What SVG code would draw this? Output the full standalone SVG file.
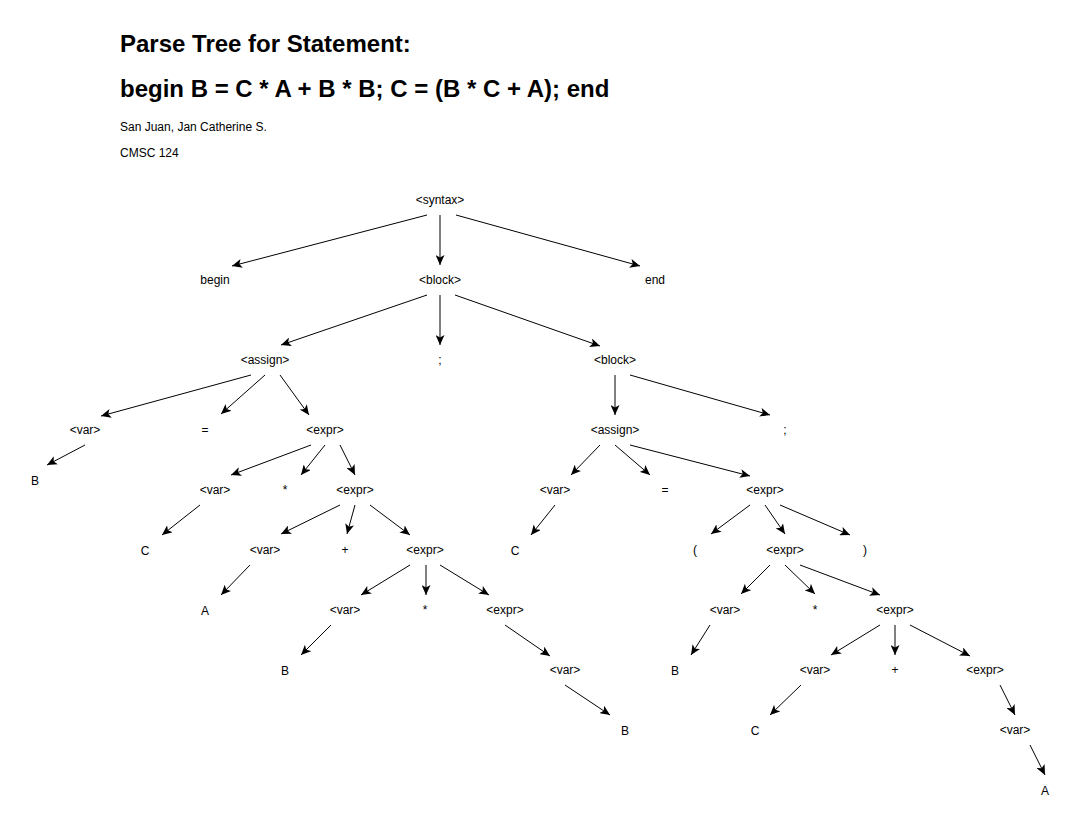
<svg xmlns="http://www.w3.org/2000/svg" width="1091" height="821" viewBox="0 0 1091 821">
<style>
  text { font-family: "Liberation Sans", Arial, sans-serif; fill: #000; }
  .title { font-size: 24px; font-weight: bold; }
  .sub { font-size: 12px; }
  .n text { font-size: 12px; text-anchor: middle; }
  .edges line { stroke: #000; stroke-width: 1; fill: none; marker-end: url(#arr); }
</style>
<defs>
  <marker id="arr" markerUnits="userSpaceOnUse" markerWidth="11" markerHeight="9" refX="10" refY="4.5" orient="auto">
    <path d="M0,0 L10,4.5 L0,9 L2.5,4.5 z" fill="#000"/>
  </marker>
</defs>
<rect width="1091" height="821" fill="#fff"/>
<g id="header">
  <text class="title" x="120" y="52">Parse Tree for Statement:</text>
  <text class="title" x="120" y="97">begin B = C * A + B * B; C = (B * C + A); end</text>
  <text class="sub" x="120" y="131">San Juan, Jan Catherine S.</text>
  <text class="sub" x="120" y="157">CMSC 124</text>
</g>
<g class="edges" id="connectors">
  <line x1="427" y1="215" x2="232" y2="266"/>
  <line x1="440" y1="215" x2="440" y2="265"/>
  <line x1="456" y1="215" x2="640" y2="266"/>
  <line x1="427" y1="295" x2="281" y2="345"/>
  <line x1="440" y1="295" x2="440" y2="345"/>
  <line x1="455" y1="295" x2="600" y2="346"/>
  <line x1="251" y1="375" x2="101" y2="416"/>
  <line x1="265" y1="375" x2="221" y2="414"/>
  <line x1="280" y1="375" x2="309" y2="415"/>
  <line x1="85" y1="445" x2="47" y2="465"/>
  <line x1="311" y1="445" x2="231" y2="475"/>
  <line x1="325" y1="445" x2="301" y2="475"/>
  <line x1="340" y1="445" x2="355" y2="475"/>
  <line x1="200" y1="505" x2="162" y2="535"/>
  <line x1="340" y1="505" x2="281" y2="534"/>
  <line x1="355" y1="505" x2="347" y2="534"/>
  <line x1="370" y1="505" x2="410" y2="535"/>
  <line x1="250" y1="565" x2="221" y2="595"/>
  <line x1="410" y1="565" x2="361" y2="595"/>
  <line x1="426" y1="565" x2="426" y2="595"/>
  <line x1="440" y1="565" x2="489" y2="595"/>
  <line x1="331" y1="625" x2="301" y2="655"/>
  <line x1="505" y1="625" x2="550" y2="656"/>
  <line x1="565" y1="685" x2="610" y2="715"/>
  <line x1="615" y1="375" x2="615" y2="415"/>
  <line x1="630" y1="375" x2="770" y2="415"/>
  <line x1="600" y1="445" x2="571" y2="475"/>
  <line x1="615" y1="445" x2="650" y2="475"/>
  <line x1="630" y1="445" x2="750" y2="476"/>
  <line x1="555" y1="505" x2="531" y2="535"/>
  <line x1="750" y1="505" x2="711" y2="534"/>
  <line x1="765" y1="505" x2="785" y2="534"/>
  <line x1="780" y1="505" x2="850" y2="535"/>
  <line x1="770" y1="565" x2="741" y2="594"/>
  <line x1="785" y1="565" x2="815" y2="594"/>
  <line x1="800" y1="565" x2="880" y2="595"/>
  <line x1="710" y1="625" x2="691" y2="655"/>
  <line x1="880" y1="625" x2="831" y2="655"/>
  <line x1="895" y1="625" x2="895" y2="655"/>
  <line x1="910" y1="625" x2="970" y2="656"/>
  <line x1="801" y1="685" x2="770" y2="715"/>
  <line x1="1000" y1="685" x2="1015" y2="715"/>
  <line x1="1030" y1="745" x2="1045" y2="775"/>
</g>
<g class="n" id="n-syntax"><text x="440" y="204">&lt;syntax&gt;</text></g>
<g class="n" id="n-begin"><text x="215" y="284">begin</text></g>
<g class="n" id="n-block1"><text x="440" y="284">&lt;block&gt;</text></g>
<g class="n" id="n-end"><text x="655" y="284">end</text></g>
<g class="n" id="n-assign1"><text x="265" y="364">&lt;assign&gt;</text></g>
<g class="n" id="n-semi1"><text x="440" y="364">;</text></g>
<g class="n" id="n-block2"><text x="615" y="364">&lt;block&gt;</text></g>
<g class="n" id="n-var1"><text x="85" y="434">&lt;var&gt;</text></g>
<g class="n" id="n-eq1"><text x="205" y="434">=</text></g>
<g class="n" id="n-expr1"><text x="325" y="434">&lt;expr&gt;</text></g>
<g class="n" id="n-assign2"><text x="615" y="434">&lt;assign&gt;</text></g>
<g class="n" id="n-semi2"><text x="785" y="434">;</text></g>
<g class="n" id="n-B1"><text x="35" y="485">B</text></g>
<g class="n" id="n-var2"><text x="215" y="494">&lt;var&gt;</text></g>
<g class="n" id="n-mul1"><text x="285" y="494">*</text></g>
<g class="n" id="n-expr2"><text x="355" y="494">&lt;expr&gt;</text></g>
<g class="n" id="n-var3"><text x="555" y="494">&lt;var&gt;</text></g>
<g class="n" id="n-eq2"><text x="665" y="494">=</text></g>
<g class="n" id="n-expr3"><text x="765" y="494">&lt;expr&gt;</text></g>
<g class="n" id="n-C1"><text x="145" y="555">C</text></g>
<g class="n" id="n-var4"><text x="265" y="554">&lt;var&gt;</text></g>
<g class="n" id="n-plus1"><text x="345" y="554">+</text></g>
<g class="n" id="n-expr4"><text x="425" y="554">&lt;expr&gt;</text></g>
<g class="n" id="n-C2"><text x="515" y="555">C</text></g>
<g class="n" id="n-lp"><text x="695" y="554">(</text></g>
<g class="n" id="n-expr5"><text x="785" y="554">&lt;expr&gt;</text></g>
<g class="n" id="n-rp"><text x="865" y="554">)</text></g>
<g class="n" id="n-A1"><text x="205" y="615">A</text></g>
<g class="n" id="n-var5"><text x="345" y="614">&lt;var&gt;</text></g>
<g class="n" id="n-mul2"><text x="425" y="614">*</text></g>
<g class="n" id="n-expr6"><text x="505" y="614">&lt;expr&gt;</text></g>
<g class="n" id="n-var6"><text x="725" y="614">&lt;var&gt;</text></g>
<g class="n" id="n-mul3"><text x="815" y="614">*</text></g>
<g class="n" id="n-expr7"><text x="895" y="614">&lt;expr&gt;</text></g>
<g class="n" id="n-B2"><text x="285" y="675">B</text></g>
<g class="n" id="n-var7"><text x="565" y="674">&lt;var&gt;</text></g>
<g class="n" id="n-B3"><text x="675" y="675">B</text></g>
<g class="n" id="n-var8"><text x="815" y="674">&lt;var&gt;</text></g>
<g class="n" id="n-plus2"><text x="895" y="674">+</text></g>
<g class="n" id="n-expr8"><text x="985" y="674">&lt;expr&gt;</text></g>
<g class="n" id="n-B4"><text x="625" y="735">B</text></g>
<g class="n" id="n-C3"><text x="755" y="735">C</text></g>
<g class="n" id="n-var9"><text x="1015" y="734">&lt;var&gt;</text></g>
<g class="n" id="n-A2"><text x="1045" y="795">A</text></g>
</svg>
